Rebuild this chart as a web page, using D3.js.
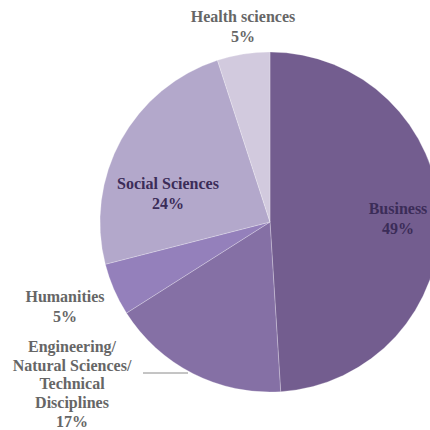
<!DOCTYPE html>
<meta charset="utf-8">
<style>
  body { margin: 0; background: #fff; }
  text { font-family: "Liberation Serif", "DejaVu Serif", serif; font-weight: bold; }
</style>
<svg width="430" height="430"></svg>
<script src="https://d3js.org/d3.v7.min.js"></script>
<script>
// slices, clockwise from 12 o'clock
var categories = ["Business", "Engineering/Natural Sciences/Technical Disciplines", "Humanities", "Social Sciences", "Health sciences"]
var values = [49, 17, 5, 24, 5]
var colors = ["#735d8f", "#8570a5", "#9480bb", "#b3a8cb", "#d2cade"]

// label lines per slice (last line is the percent)
var labelLines = [
  ["Business", "49%"],
  ["Engineering/", "Natural Sciences/", "Technical", "Disciplines", "17%"],
  ["Humanities", "5%"],
  ["Social Sciences", "24%"],
  ["Health sciences", "5%"]
]
// where each label block sits (centre x, first baseline y)
var labelPos = [[398, 214], [72, 352], [65, 302], [168, 189], [243, 22]]
var labelColor = ["#3b2c58", "#666", "#666", "#3b2c58", "#666"]

var svg = d3.select('svg')
var cx = 270, cy = 222, r = 170

var pie = d3.pie().sort(null).value(function (d) { return d })
var arc = d3.arc().innerRadius(0).outerRadius(r)

var arcs = pie(values)

var g = svg.append('g').attr('transform', 'translate(' + cx + ',' + cy + ')')
g.selectAll('path')
  .data(arcs)
  .enter().append('path')
    .attr('d', arc)
    .attr('fill', function (d, i) { return colors[i] })
    .attr('stroke', 'rgba(255,255,255,0.35)')
    .attr('stroke-width', 0.7)

// leader line for engineering
svg.append('line')
  .attr('x1', 143).attr('y1', 373)
  .attr('x2', 188).attr('y2', 373)
  .attr('stroke', '#8a8a8a')
  .attr('stroke-width', 1)

var lab = svg.append('g')
labelLines.forEach(function (lines, i) {
  var t = lab.append('text')
    .attr('text-anchor', 'middle')
    .attr('font-size', 16)
    .attr('fill', labelColor[i])
  lines.forEach(function (s, j) {
    var lh = lines.length > 2 ? 18.7 : 20
    t.append('tspan')
      .attr('x', labelPos[i][0])
      .attr('y', labelPos[i][1] + j * lh)
      .text(s)
  })
})
</script>
